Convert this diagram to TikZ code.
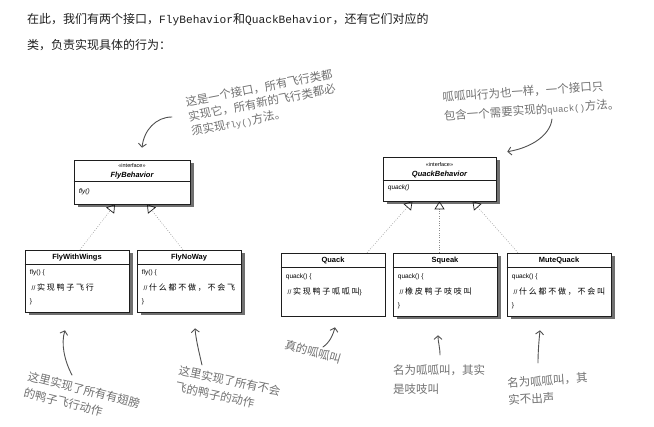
\documentclass[tikz,border=0pt]{standalone}
\usepackage{fontspec}
\setmainfont{Liberation Sans}
\newfontfamily\cjk{Noto Sans CJK SC}
\newfontfamily\cjkwide[LetterSpace=22]{Noto Sans CJK SC}
\newfontfamily\mono{Liberation Mono}
\usetikzlibrary{arrows.meta,positioning,calc,shadows}
\definecolor{hf-ink}{HTML}{1E1E1E}
\definecolor{hf-note}{HTML}{707070}
\definecolor{hf-pen}{HTML}{505050}
\definecolor{hf-dots}{HTML}{8C8C8C}

\begin{document}
\begin{tikzpicture}[x=1pt,y=-1pt,
  umlbox/.style={draw=hf-ink,line width=0.6pt,fill=white,inner sep=0pt},
  shadowed/.style={drop shadow={shadow xshift=3.5pt,shadow yshift=-3.5pt,fill=black!70,opacity=0.8}},
  stereo/.style={font=\fontsize{5.5}{6}\selectfont,inner sep=0pt},
  ifname/.style={font=\bfseries\itshape\fontsize{7.5}{8}\selectfont,inner sep=0pt},
  clsname/.style={font=\bfseries\fontsize{7.5}{8}\selectfont,inner sep=0pt},
  opline/.style={anchor=west,font=\fontsize{6.5}{7}\selectfont,inner sep=0pt},
  realizes/.style={hf-dots,line width=0.5pt,dash pattern=on 0.8pt off 1.6pt,
    -{Triangle[open,length=8pt,width=10pt,line width=0.7pt,color=hf-ink]}},
  notetext/.style={text=hf-note,font=\cjk\fontsize{11.5}{17}\selectfont,align=left,inner sep=0pt},
  notearrow/.style={hf-pen,line width=0.9pt,line cap=round,
    -{Straight Barb[length=3.5pt,width=8pt,line width=0.9pt]}}]

\useasboundingbox (0,0) rectangle (654,427);

% ============ intro text ============
\node[anchor=west,text=hf-ink,font=\cjk\fontsize{12}{14}\selectfont,inner sep=0pt] (intro1) at (27,20)
     {在此，我们有两个接口，{\mono\fontsize{11.2}{14}\selectfont FlyBehavior}和{\mono\fontsize{11.2}{14}\selectfont QuackBehavior}，还有它们对应的};
\node[anchor=west,text=hf-ink,font=\cjk\fontsize{12}{14}\selectfont,inner sep=0pt] (intro2) at (27,45)
     {类，负责实现具体的行为：};

% ============ interfaces ============
\node[umlbox,shadowed,minimum width=116pt,minimum height=44pt] (flyb) at (132,182) {};
\draw[hf-ink,line width=0.5pt] ($(flyb.north west)+(0,22)$) -- ($(flyb.north east)+(0,22)$);
\node[stereo] (flybSt) at ($(flyb.north)+(0,6)$) {<<interface>>};
\node[ifname] (flybName) at ($(flyb.north)+(0,16)$) {FlyBehavior};
\node[opline,font=\itshape\fontsize{6.5}{7}\selectfont] (flybOp) at ($(flyb.north west)+(5,32)$) {fly()};

\node[umlbox,shadowed,minimum width=113pt,minimum height=44pt] (quackb) at (439.5,179) {};
\draw[hf-ink,line width=0.5pt] ($(quackb.north west)+(0,24)$) -- ($(quackb.north east)+(0,24)$);
\node[stereo] (quackbSt) at ($(quackb.north)+(0,8)$) {<<interface>>};
\node[ifname] (quackbName) at ($(quackb.north)+(0,18)$) {QuackBehavior};
\node[opline,font=\itshape\fontsize{6.5}{7}\selectfont] (quackbOp) at ($(quackb.north west)+(5,31)$) {quack()};

% ============ fly classes ============
\node[umlbox,shadowed,minimum width=104pt,minimum height=62pt] (fww) at (77,281) {};
\node[umlbox,shadowed,minimum width=104pt,minimum height=62pt] (fnw) at (189,281) {};
\node[clsname] (fwwName) at ($(fww.north)+(0,7.5)$) {FlyWithWings};
\node[opline] (fwwL1) at ($(fww.north west)+(5,23)$) {fly() \{};
\node[opline] (fwwL2) at ($(fww.north west)+(5,38)$) {\ // {\cjkwide\fontsize{8}{9}\selectfont 实现鸭子飞行}};
\node[opline] (fwwL3) at ($(fww.north west)+(5,52)$) {\}};
\node[clsname] (fnwName) at ($(fnw.north)+(0,7.5)$) {FlyNoWay};
\node[opline] (fnwL1) at ($(fnw.north west)+(5,23)$) {fly() \{};
\node[opline] (fnwL2) at ($(fnw.north west)+(5,38)$) {\ // {\cjkwide\fontsize{8}{9}\selectfont 什么都不做，不会飞}};
\node[opline] (fnwL3) at ($(fnw.north west)+(5,52)$) {\}};

% ============ quack classes ============
\node[umlbox,minimum width=104pt,minimum height=63pt] (quack) at (333,284.5) {};
\node[umlbox,shadowed,minimum width=104pt,minimum height=63pt] (squeak) at (445,284.5) {};
\node[umlbox,shadowed,minimum width=104pt,minimum height=63pt] (mute) at (559,284.5) {};
\node[clsname] (quackName) at ($(quack.north)+(0,7.5)$) {Quack};
\node[opline] (quackL1) at ($(quack.north west)+(5,24)$) {quack() \{};
\node[opline] (quackL2) at ($(quack.north west)+(5,39)$) {\ // {\cjkwide\fontsize{8}{9}\selectfont 实现鸭子呱呱叫}\}};
\node[clsname] (squeakName) at ($(squeak.north)+(0,7.5)$) {Squeak};
\node[opline] (squeakL1) at ($(squeak.north west)+(5,24)$) {quack() \{};
\node[opline] (squeakL2) at ($(squeak.north west)+(5,39)$) {\ // {\cjkwide\fontsize{8}{9}\selectfont 橡皮鸭子吱吱叫}};
\node[opline] (squeakL3) at ($(squeak.north west)+(5,53)$) {\}};
\node[clsname] (muteName) at ($(mute.north)+(0,7.5)$) {MuteQuack};
\node[opline] (muteL1) at ($(mute.north west)+(5,24)$) {quack() \{};
\node[opline] (muteL2) at ($(mute.north west)+(5,39)$) {\ // {\cjkwide\fontsize{8}{9}\selectfont 什么都不做，不会叫}};
\node[opline] (muteL3) at ($(mute.north west)+(5,53)$) {\}};

\foreach \b in {fww,fnw} \draw[hf-ink,line width=0.5pt] ($(\b.north west)+(0,15)$) -- ($(\b.north east)+(0,15)$);
\foreach \b in {quack,squeak,mute} \draw[hf-ink,line width=0.5pt] ($(\b.north west)+(0,14.5)$) -- ($(\b.north east)+(0,14.5)$);

% realization links
\draw[realizes] ($(fww.north)+(3,0)$) -- ($(flyb.south)+(-17,0)$);
\draw[realizes] ($(fnw.north)+(-6,0)$) -- ($(flyb.south)+(15,0)$);
\draw[realizes] ($(quack.north)+(34,0)$) -- ($(quackb.south)+(-27,0)$);
\draw[realizes] (quackb.south |- squeak.north) -- (quackb.south);
\draw[realizes] ($(mute.north)+(-41,0)$) -- ($(quackb.south)+(33,0)$);

% ============ hand notes ============
\node[notetext,rotate=11,font=\cjk\fontsize{11.5}{15}\selectfont] (noteFly) at (262,103)
     {这是一个接口，所有飞行类都\\实现它，所有新的飞行类都必\\须实现{\mono\fontsize{9}{15}\selectfont fly()}方法。};
\node[notetext,rotate=4,font=\cjk\fontsize{11.5}{19}\selectfont] (noteQuack) at (531,101)
     {呱呱叫行为也一样，一个接口只\\包含一个需要实现的{\mono\fontsize{9}{19}\selectfont quack()}方法。};
\node[notetext,rotate=-14] (noteWings) at (82,398)
     {这里实现了所有有翅膀\\的鸭子飞行动作};
\node[notetext,rotate=-12] (noteNoWay) at (228,389)
     {这里实现了所有不会\\飞的鸭子的动作};
\node[notetext,rotate=-16] (noteReal) at (313,352) {真的呱呱叫};
\node[notetext,font=\cjk\fontsize{11.5}{19}\selectfont] (noteSqueak) at (439,380) {名为呱呱叫，其实\\是吱吱叫};
\node[notetext,rotate=4] (noteMute) at (548,389) {名为呱呱叫，其\\实不出声};

\coordinate (tFly) at (172,117);
\coordinate (tQuack) at (552,119);
\coordinate (tWings) at (72,375);
\coordinate (tNoWay) at (202,365);
\coordinate (tReal) at (323,347);
\coordinate (tSqueak) at (440,355);
\coordinate (tMute) at (538,363);

\draw[notearrow] (tFly) .. controls (156,117) and (144,130) .. ($(flyb.north)+(10,-12)$);
\draw[notearrow] (tQuack) .. controls (550,136) and (530,148) .. ($(quackb.north east)+(11,-5)$);
\draw[notearrow] (tWings) .. controls (64,360) and (61,343) .. ($(fww.south)+(-12,18)$);
\draw[notearrow] (tNoWay) .. controls (199,352) and (196,340) .. ($(fnw.south)+(6,16)$);
\draw[notearrow] (tReal) .. controls (330,342) and (333,335) .. ($(quack.south)+(2,11)$);
\draw[notearrow] (tSqueak) .. controls (440,347) and (438,342) .. ($(squeak.south)+(-7,19)$);
\draw[notearrow] (tMute) .. controls (538,352) and (539,340) .. ($(mute.south)+(-19,14)$);

\end{tikzpicture}
\end{document}
